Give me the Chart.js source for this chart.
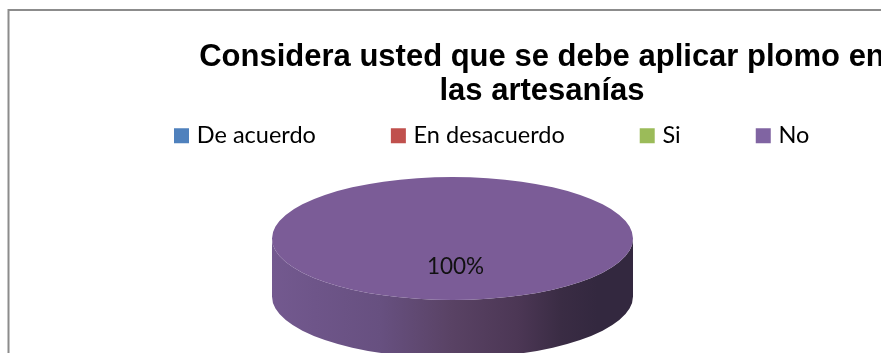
<!DOCTYPE html>
<html lang="es">
<head>
<meta charset="utf-8">
<title>Plomo en las artesanías</title>
<style>
  html, body { margin: 0; padding: 0; width: 881px; height: 353px; overflow: hidden; background: #fff; }
  canvas { display: block; }
</style>
<script src="https://cdn.jsdelivr.net/npm/chart.js@4"></script>
</head>
<body>
<canvas id="chart" width="1084" height="353"></canvas>
<script>
const titleLines = ['Considera usted que se debe aplicar plomo en', 'las artesanías'];
const categories = ['De acuerdo', 'En desacuerdo', 'Si', 'No'];
const values = [0, 0, 0, 100];
const legendColors = ['#4F81BD', '#C0504D', '#9BBB59', '#8064A2'];
const faceColors = ['#4F81BD', '#C0504D', '#9BBB59', '#7B5C97'];
const wallStops = [
  [0, '#73598F'], [0.12, '#6E5589'], [0.3, '#675080'], [0.5, '#594264'],
  [0.68, '#4C3755'], [0.8, '#3A2C44'], [0.9, '#33283F'], [1, '#33283F']
];

// The pie is laid out by Chart.js as a circle, then projected onto a tilted disc.
const disc = { cx: 452.5, cy: 238.5, rx: 180.5, ry: 61.5, depth: 58 };

const tiltedPie = {
  id: 'tiltedPie',
  beforeDraw(chart) {
    const { ctx } = chart;
    ctx.save();
    ctx.strokeStyle = '#8C8C8C';
    ctx.lineWidth = 2;
    ctx.beginPath();
    ctx.moveTo(8.5, 353);
    ctx.lineTo(8.5, 10);
    ctx.lineTo(1084, 10);
    ctx.stroke();
    ctx.restore();
  },
  afterLayout(chart) {
    // Legend row sits directly under the title, starting left of the title block
    chart.legend.left = 99;
    chart.legend.top = 45;
  },
  beforeDatasetDraw(chart) {
    const { ctx } = chart;
    const arcs = chart.getDatasetMeta(0).data;
    const visible = arcs.find(a => a.circumference > 0);
    if (!visible) return;

    // Cylinder wall below the front half of the disc
    const grad = ctx.createLinearGradient(disc.cx - disc.rx, 0, disc.cx + disc.rx, 0);
    wallStops.forEach(([p, c]) => grad.addColorStop(p, c));
    ctx.save();
    ctx.fillStyle = grad;
    ctx.beginPath();
    ctx.ellipse(disc.cx, disc.cy, disc.rx, disc.ry, 0, Math.PI, 0, true);
    ctx.lineTo(disc.cx + disc.rx, disc.cy + disc.depth);
    ctx.ellipse(disc.cx, disc.cy + disc.depth, disc.rx, disc.ry, 0, 0, Math.PI, false);
    ctx.closePath();
    ctx.fill();
    ctx.restore();

    // Top face: the library's own arc, seen through the tilt transform
    const R = visible.outerRadius;
    ctx.save();
    ctx.translate(disc.cx, disc.cy);
    ctx.scale(disc.rx / R, disc.ry / R);
    ctx.translate(-visible.x, -visible.y);
  },
  afterDatasetDraw(chart) {
    const { ctx } = chart;
    const arcs = chart.getDatasetMeta(0).data;
    const visible = arcs.find(a => a.circumference > 0);
    if (!visible) return;
    ctx.restore();

    // Percentage labels
    const total = values.reduce((a, b) => a + b, 0);
    ctx.save();
    ctx.fillStyle = '#111';
    ctx.font = '22.5px Lato, "Open Sans", sans-serif';
    ctx.textAlign = 'center';
    ctx.textBaseline = 'middle';
    values.forEach(v => {
      if (v > 0) ctx.fillText(Math.round(v / total * 100) + '%', disc.cx + 3, disc.cy + 28);
    });
    ctx.restore();
  }
};

new Chart(document.getElementById('chart'), {
  type: 'pie',
  data: {
    labels: categories,
    datasets: [{
      data: values,
      backgroundColor: faceColors,
      borderWidth: 0,
      clip: false
    }]
  },
  plugins: [tiltedPie],
  options: {
    responsive: false,
    animation: false,
    layout: { padding: { top: 41 } },
    plugins: {
      title: {
        display: true,
        text: titleLines,
        color: '#000',
        font: { family: '"Liberation Sans", Arial, sans-serif', weight: 'bold', size: 31, lineHeight: 1.08 },
        padding: { top: 0, bottom: 10 }
      },
      legend: {
        display: true,
        position: 'top',
        align: 'start',
        labels: {
          usePointStyle: true,
          pointStyle: 'rect',
          boxWidth: 7,
          boxHeight: 15,
          padding: 79,
          color: '#111',
          font: { family: 'Lato, "Open Sans", sans-serif', size: 23.5 },
          generateLabels: () => categories.map((c, i) => ({
            text: c, fillStyle: legendColors[i], strokeStyle: legendColors[i], lineWidth: 0, pointStyle: 'rect', index: i
          }))
        }
      },
      tooltip: { enabled: false }
    }
  }
});
</script>
</body>
</html>
